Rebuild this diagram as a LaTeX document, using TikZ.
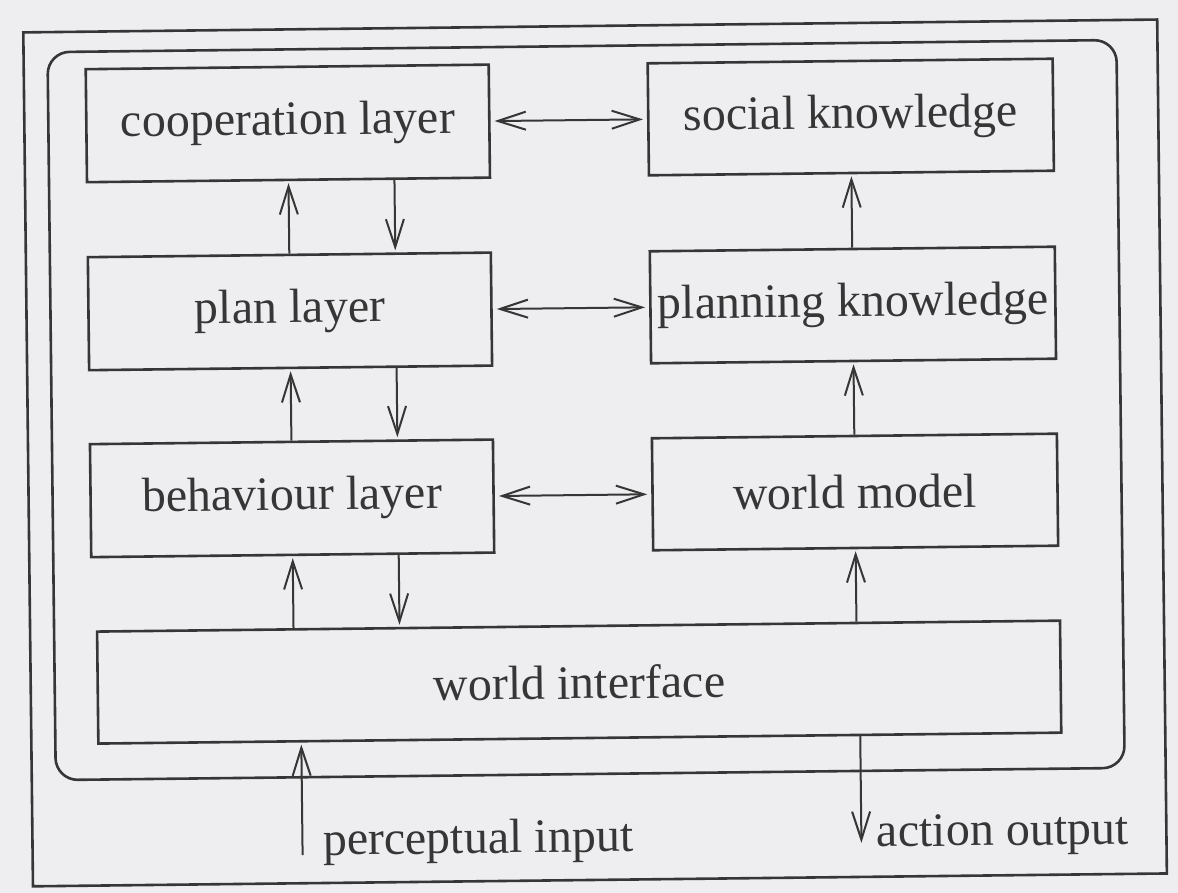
\documentclass[tikz,border=0pt]{standalone}
\usepackage{fontspec}
\setmainfont{Liberation Serif}
\usetikzlibrary{arrows.meta}
\definecolor{paper}{HTML}{EEEEF1}
\definecolor{ink}{HTML}{363636}
\begin{document}
\begin{tikzpicture}[x=0.5pt,y=-0.5pt,
  >={Straight Barb[length=14pt,width=9pt,line width=1pt]},
  lbl/.style={text=ink, font=\fontsize{24}{28}\selectfont},
  box/.style={lbl, draw=ink, line width=1.3pt, rectangle, inner sep=0pt},
  lbox/.style={box, minimum width=201.5pt, minimum height=56.5pt},
  rbox/.style={box, minimum width=202.5pt, minimum height=56pt},
  wbox/.style={box, minimum width=481.5pt, minimum height=56pt},
  arr/.style={draw=ink, line width=1pt, ->, shorten >=1pt},
  darr/.style={draw=ink, line width=1pt, <->, shorten >=2pt, shorten <=2pt},
  frame/.style={draw=ink, line width=1.3pt}]
% page
\fill[paper] (0,0) rectangle (1178,893);
\useasboundingbox (0,0) rectangle (1178,893);
\begin{scope}[rotate around={0.65:(589,446)}, transform shape]
  % outer frame and rounded system boundary
  \draw[frame] (28,26) rectangle (1162,880);
  \draw[frame, rounded corners=11pt] (52,46) rectangle (1121,774);

  % layers (left) and knowledge bases (right)
  \node[lbox] (coop)   at (291.5,120) {cooperation layer};
  \node[lbox] (plan)   at (291.5,308) {plan layer};
  \node[lbox] (behav)  at (291.5,495) {behaviour layer};
  \node[rbox] (social) at (854.5,120) {social knowledge};
  \node[rbox] (pknow)  at (854.5,308) {planning knowledge};
  \node[rbox] (wmodel) at (854.5,495) {world model};
  \node[wbox] (wi)     at (576.5,682) {world interface};

  % layer <-> knowledge
  \draw[darr] (coop.east)  -- (social.west);
  \draw[darr] (plan.east)  -- (pknow.west);
  \draw[darr] (behav.east) -- (wmodel.west);

  % upward and downward flow between layers
  \draw[arr] (plan.north)  -- (coop.south);
  \draw[arr] (behav.north) -- (plan.south);
  \draw[arr] ([xshift=-142.5pt]wi.north) -- (behav.south);
  \draw[arr] ([xshift=53pt]coop.south)  -- ([xshift=53pt]plan.north);
  \draw[arr] ([xshift=53pt]plan.south)  -- ([xshift=53pt]behav.north);
  \draw[arr] ([xshift=53pt]behav.south) -- ([xshift=-89.5pt]wi.north);

  % knowledge updates
  \draw[arr] (pknow.north)  -- (social.south);
  \draw[arr] (wmodel.north) -- (pknow.south);
  \draw[arr] ([xshift=139pt]wi.north) -- (wmodel.south);

  % perception and action
  \coordinate (pin)  at (298,852);
  \coordinate (aout) at (857,848);
  \draw[arr] (pin) -- ([xshift=-139.25pt]wi.south);
  \draw[arr] ([xshift=140.25pt]wi.south) -- (aout);
  \node[lbl, anchor=base west, inner sep=0pt] (pinlbl)  at (318,852) {perceptual input};
  \node[lbl, anchor=base west, inner sep=0pt] (aoutlbl) at (872,850) {action output};
\end{scope}
\end{tikzpicture}
\end{document}
